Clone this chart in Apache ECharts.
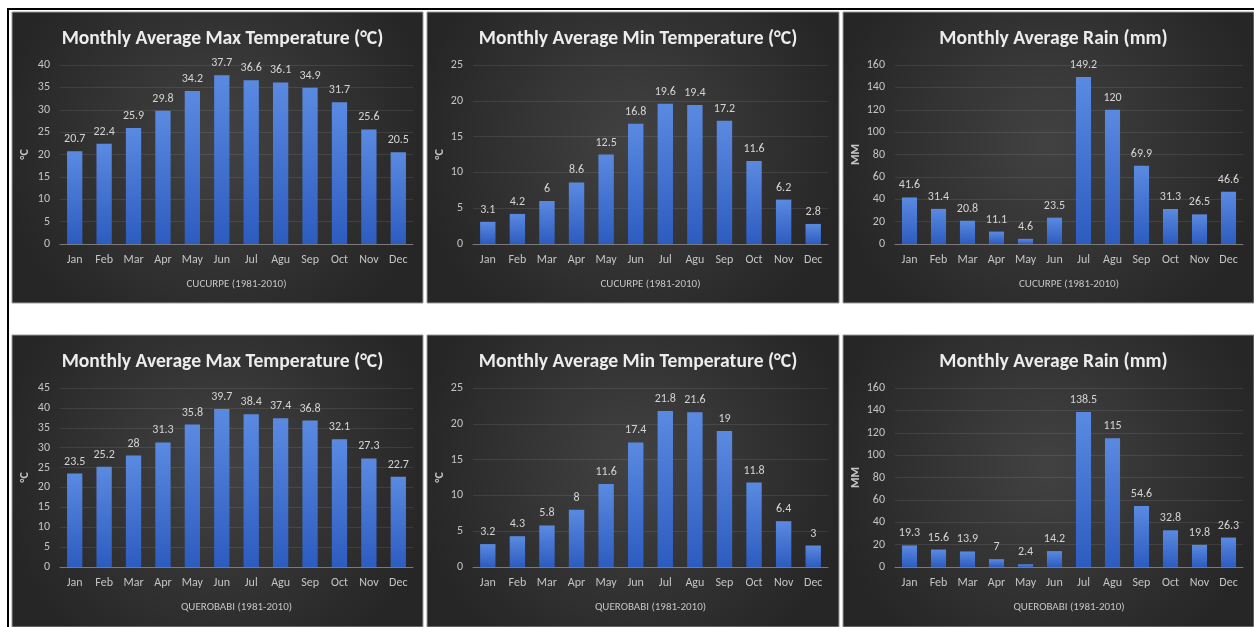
<!DOCTYPE html>
<html>
<head>
<meta charset="utf-8">
<script src="https://cdn.jsdelivr.net/npm/echarts@6/dist/echarts.min.js"></script>
<style>
  html, body { margin: 0; padding: 0; background: #ffffff; }
  #chart { width: 1254px; height: 627px; }
</style>
</head>
<body>
<div id="chart"></div>
<script>
// Month categories shared by all six charts
const months = ['Jan', 'Feb', 'Mar', 'Apr', 'May', 'Jun', 'Jul', 'Agu', 'Sep', 'Oct', 'Nov', 'Dec'];

// Cucurpe station, 1981-2010 normals
const cucurpeMaxTemp = [20.7, 22.4, 25.9, 29.8, 34.2, 37.7, 36.6, 36.1, 34.9, 31.7, 25.6, 20.5];
const cucurpeMinTemp = [3.1, 4.2, 6, 8.6, 12.5, 16.8, 19.6, 19.4, 17.2, 11.6, 6.2, 2.8];
const cucurpeRain = [41.6, 31.4, 20.8, 11.1, 4.6, 23.5, 149.2, 120, 69.9, 31.3, 26.5, 46.6];

// Querobabi station, 1981-2010 normals
const querobabiMaxTemp = [23.5, 25.2, 28, 31.3, 35.8, 39.7, 38.4, 37.4, 36.8, 32.1, 27.3, 22.7];
const querobabiMinTemp = [3.2, 4.3, 5.8, 8, 11.6, 17.4, 21.8, 21.6, 19, 11.8, 6.4, 3];
const querobabiRain = [19.3, 15.6, 13.9, 7, 2.4, 14.2, 138.5, 115, 54.6, 32.8, 19.8, 26.3];

// Value-axis ranges: [min, max, step]
const cucurpeMaxAxis = [0, 40, 5];
const querobabiMaxAxis = [0, 45, 5];
const minTempAxis = [0, 25, 5];
const rainAxis = [0, 160, 20];

// Titles and labels
const titleMax = 'Monthly Average Max Temperature (°C)';
const titleMin = 'Monthly Average Min Temperature (°C)';
const titleRain = 'Monthly Average Rain (mm)';
const stationCucurpe = 'CUCURPE (1981-2010)';
const stationQuerobabi = 'QUEROBABI (1981-2010)';
const unitTemp = '°C';
const unitRain = 'MM';

const panels = [
  { title: titleMax,  station: stationCucurpe,   unit: unitTemp, data: cucurpeMaxTemp,   axis: cucurpeMaxAxis },
  { title: titleMin,  station: stationCucurpe,   unit: unitTemp, data: cucurpeMinTemp,   axis: minTempAxis },
  { title: titleRain, station: stationCucurpe,   unit: unitRain, data: cucurpeRain,      axis: rainAxis },
  { title: titleMax,  station: stationQuerobabi, unit: unitTemp, data: querobabiMaxTemp, axis: querobabiMaxAxis },
  { title: titleMin,  station: stationQuerobabi, unit: unitTemp, data: querobabiMinTemp, axis: minTempAxis },
  { title: titleRain, station: stationQuerobabi, unit: unitRain, data: querobabiRain,    axis: rainAxis }
];

// Page layout: panel boxes and plot offsets inside each column
const colBoxes = [
  { x: 12,  w: 411, gl: 48, gr: 10 },
  { x: 427, w: 412, gl: 46, gr: 11 },
  { x: 843, w: 411, gl: 52, gr: 11 }
];
const rowBoxes = [
  { y: 12,  h: 291 },
  { y: 335, h: 292 }
];
const gridTop = 53;
const gridHeight = 179;

const FONT = 'Carlito, Lato, sans-serif';

const option = {
  backgroundColor: '#ffffff',
  animation: false,
  title: [],
  grid: [],
  xAxis: [],
  yAxis: [],
  series: [],
  graphic: []
};

// outer frame lines
option.graphic.push(
  { type: 'line', shape: { x1: 8, y1: 9, x2: 1254, y2: 9 }, style: { stroke: '#000', lineWidth: 2 }, z: -5 },
  { type: 'line', shape: { x1: 8, y1: 8, x2: 8, y2: 627 }, style: { stroke: '#000', lineWidth: 2 }, z: -5 }
);

panels.forEach((p, i) => {
  const col = colBoxes[i % 3];
  const row = rowBoxes[Math.floor(i / 3)];

  // dark panel background with a soft central glow
  option.graphic.push({
    type: 'rect',
    shape: { x: col.x, y: row.y, width: col.w, height: row.h },
    style: {
      fill: new echarts.graphic.RadialGradient(0.5, 0.45, 0.75, [
        { offset: 0, color: '#424242' },
        { offset: 1, color: '#262626' }
      ]),
      stroke: '#9a9a9a',
      lineWidth: 1
    },
    z: -4
  });

  option.title.push({
    text: p.title,
    left: col.x + col.w / 2,
    top: row.y + 12,
    textAlign: 'center',
    textStyle: { color: '#ececec', fontFamily: FONT, fontWeight: 'bold', fontSize: 19.6 }
  });

  option.grid.push({
    left: col.x + col.gl,
    top: row.y + gridTop,
    width: col.w - col.gl - col.gr,
    height: gridHeight,
    containLabel: false
  });

  option.xAxis.push({
    type: 'category',
    gridIndex: i,
    data: months,
    name: p.station,
    nameLocation: 'middle',
    nameGap: 35,
    nameTextStyle: { color: '#c4c4c4', fontFamily: FONT, fontSize: 11 },
    axisLine: { lineStyle: { color: '#7a7a7a', width: 1 } },
    axisTick: { show: false },
    axisLabel: { color: '#c4c4c4', fontFamily: FONT, fontSize: 12, margin: 10 },
    splitLine: { show: false }
  });

  option.yAxis.push({
    type: 'value',
    gridIndex: i,
    min: p.axis[0],
    max: p.axis[1],
    interval: p.axis[2],
    name: p.unit,
    nameLocation: 'middle',
    nameRotate: 90,
    nameGap: col.gl - 19,
    nameTextStyle: { color: '#c4c4c4', fontFamily: FONT, fontSize: 12, fontWeight: 'bold' },
    axisLine: { show: false },
    axisTick: { show: false },
    axisLabel: { color: '#c4c4c4', fontFamily: FONT, fontSize: 12, margin: 10 },
    splitLine: { lineStyle: { color: 'rgba(255,255,255,0.09)', width: 1 } }
  });

  option.series.push({
    type: 'bar',
    xAxisIndex: i,
    yAxisIndex: i,
    data: p.data,
    barWidth: '52%',
    itemStyle: {
      color: new echarts.graphic.LinearGradient(0, 0, 0, 1, [
        { offset: 0, color: '#5a8ae0' },
        { offset: 1, color: '#2d5cc0' }
      ])
    },
    label: {
      show: true,
      position: 'top',
      distance: 6,
      color: '#d4d4d4',
      fontFamily: FONT,
      fontSize: 12
    }
  });
});

const chart = echarts.init(document.getElementById('chart'), null, { renderer: 'canvas' });
chart.setOption(option);
</script>
</body>
</html>
